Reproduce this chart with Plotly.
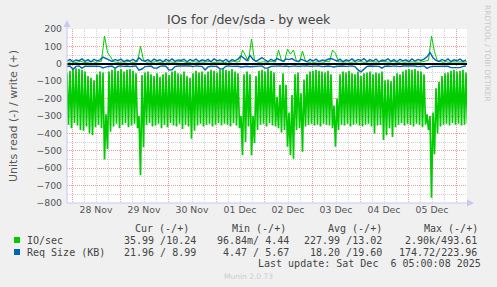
import plotly.graph_objects as go
from datetime import datetime, timedelta

# ---------------- data ----------------
sample_start = datetime(2025, 11, 27, 21, 30)   # first sample
sample_step = timedelta(minutes=90)             # one read cycle
half_step = timedelta(minutes=45)

# IO/sec read (drawn negative): cycle peaks (closest to 0) and troughs
read_peak = [-55, -40, -30, -25, -30, -35, -45, -70, -80, -95, -60, -45,
             -50, -290, -45,
             -35, -30, -40, -30, -45, -35, -30, -40, -55,
             -300, -65,
             -50, -45, -60, -70, -55, -75, -60, -50, -65, -45, -40, -55, -60, -45, -70, -80, -55, -40, -50, -45,
             -60, -45, -35, -40, -50, -35, -30, -35, -40, -30, -45, -55,
             -300, -60, -45, -60, -300,
             -70, -40, -35, -45, -30, -40, -50,
             -190, -120, -55, -120, -280, -180, -60, -50, -170, -90, -60,
             -45, -40, -35, -40, -45, -50, -40,
             -60, -240, -200, -60,
             -45, -50, -40, -55, -60, -45, -70, -55, -50, -45, -60, -50, -55, -45,
             -95, -90, -100, -70, -55, -60, -45, -35, -30, -35, -30, -40, -45, -60,
             -290, -300, -280, -140, -105,
             -70, -55, -50, -40, -35, -45, -40, -35, -50]
read_trough = [-350, -370, -340, -355, -380, -385, -360, -400, -410, -365, -350, -370,
               -550, -490, -390,
               -360, -345, -370, -350, -340, -365, -355, -345, -370,
               -640, -480,
               -350, -340, -360, -355, -345, -370, -350, -365, -340, -355, -360, -345, -375, -350, -360, -430, -385, -355, -345, -360,
               -350, -345, -360, -350, -340, -355, -345, -350, -360, -340, -355, -370,
               -525, -450, -360, -525, -455,
               -380, -350, -345, -360, -340, -355, -360,
               -370, -395, -380, -477, -525, -545, -380, -370, -506, -360, -350,
               -345, -355, -350, -360, -345, -350, -355,
               -370, -477, -380, -350,
               -355, -345, -360, -350, -345, -355, -360, -350, -345, -360, -400, -355, -350, -438,
               -410, -370, -420, -365, -350, -340, -355, -345, -350, -360, -345, -350, -365, -350,
               -380, -770, -520, -400, -360,
               -350, -345, -355, -340, -350, -345, -355, -350, -345]
# IO/sec write (positive)
write_io = [8, 12, 6, 10, 14, 9, 7, 11, 13, 8, 10, 15,
            160, 65, 40,
            12, 9, 7, 11, 10, 14, 8, 9, 13,
            100, 20,
            9, 11, 8, 12, 10, 7, 13, 9, 11, 8, 10, 12, 14, 9, 7, 10, 12, 8, 11, 9,
            10, 13, 8, 9, 12, 10, 7, 11, 9, 14, 10, 12,
            79, 45, 15, 142, 20,
            10, 8, 12, 9, 11, 13, 10,
            79, 18, 12, 84, 55, 79, 15, 10, 73, 14, 9,
            11, 8, 12, 10, 9, 13, 11,
            79, 60, 12, 9,
            10, 12, 8, 11, 9, 13, 10, 8, 12, 11, 9, 10, 14, 12,
            11, 9, 13, 10, 8, 12, 9, 11, 10, 13, 8, 9, 12, 14,
            20, 159, 69, 15, 10,
            9, 12, 8, 11, 10, 13, 9, 10, 12]
# Req Size (KB) read (drawn negative) and write
req_read = [-14, -13, -32, -15, -12, -25, -14, -13, -16, -12, -14, -15,
            -24, -18, -14,
            -13, -26, -14, -12, -15, -13, -16, -14, -12,
            -36, -30,
            -16, -14, -13, -25, -24, -15, -12, -14, -36, -34, -16, -13, -12, -15, -14, -13, -16, -12, -14, -15,
            -36, -18, -14, -13, -15, -30, -28, -14, -12, -15, -13, -14,
            -18, -16, -14, -17, -15,
            -13, -14, -12, -25, -24, -15, -13,
            -14, -12, -15, -13, -16, -14, -12, -15, -13, -14, -12,
            -15, -13, -14, -12, -16, -14, -13,
            -15, -18, -14, -12,
            -13, -15, -14, -12, -16, -35, -46, -30, -15, -13, -14, -12, -15, -25,
            -14, -13, -15, -12, -14, -16, -13, -12, -15, -14, -13, -16, -14, -12,
            -26, -18, -15, -14, -13,
            -12, -15, -14, -22, -21, -23, -22, -15, -13]
req_write = [15, 25, 12, 22, 18, 28, 14, 24, 11, 26, 17, 23,
             38, 30, 22,
             14, 25, 18, 27, 12, 22, 16, 26, 13,
             35, 20,
             15, 24, 12, 27, 18, 23, 11, 25, 16, 28, 14, 22, 19, 26, 12, 24, 17, 27, 13, 23,
             16, 25, 12, 28, 18, 22, 14, 26, 11, 24, 17, 27,
             45, 30, 18, 48, 25,
             14, 24, 36, 22, 12, 26, 17,
             30, 22, 15, 28, 24, 30, 18, 13, 26, 20, 12,
             25, 16, 27, 13, 22, 18, 26,
             30, 24, 15, 27,
             12, 23, 17, 28, 14, 25, 19, 30, 13, 24, 16, 27, 11, 22,
             18, 29, 14, 24, 12, 26, 17, 23, 13, 28, 15, 25, 19, 27,
             40, 65, 35, 20, 14,
             25, 16, 28, 12, 23, 18, 27, 14, 22]

x_tick_start = "2025-11-28"
y_title = "Units read (-) / write (+)"
title = "IOs for /dev/sda - by week"
legend_header = ["Cur (-/+)", "Min (-/+)", "Avg (-/+)", "Max (-/+)"]
io_values = ["35.99 /10.24", "96.84m/ 4.44", "227.99 /13.02", "2.90k/493.61"]
req_values = ["21.96 / 8.99", "4.47 / 5.67", "18.20 /19.60", "174.72/223.96"]
last_update = "Last update: Sat Dec\u00a0 6 05:00:08 2025"

GREEN = "#00CC00"
BLUE = "#0066B3"

n = len(read_peak)
t_peak = [sample_start + i * sample_step for i in range(n)]
t_trough = [t + half_step for t in t_peak]
read_x, read_y = [], []
for tp, tt, p, tr in zip(t_peak, t_trough, read_peak, read_trough):
    read_x += [tp, tt]
    read_y += [p, tr]

fig = go.Figure()
fig.add_trace(go.Scatter(x=t_trough, y=write_io, mode="lines",
                         line=dict(color=GREEN, width=1), hoverinfo="skip"))
fig.add_trace(go.Scatter(x=read_x, y=read_y, mode="lines",
                         line=dict(color=GREEN, width=1.7), hoverinfo="skip"))
fig.add_trace(go.Scatter(x=t_peak, y=req_read, mode="lines",
                         line=dict(color=BLUE, width=1.4), hoverinfo="skip"))
fig.add_trace(go.Scatter(x=t_peak, y=req_write, mode="lines",
                         line=dict(color=BLUE, width=1.4), hoverinfo="skip"))

# ---------------- layout ----------------
L, T, W, H = 67, 29, 400, 174


def px(x):
    return (x - L) / W


def py(y):
    return (T + H - y) / H


MAJOR = "rgb(240,150,150)"
MINOR = "#D4D4D4"
DASH = "1px,1px"
TICKFONT = dict(family="DejaVu Sans", size=9.3, color="#555555")

fig.update_layout(
    width=497, height=287,
    margin=dict(l=L, r=497 - L - W, t=T, b=287 - T - H, pad=0),
    paper_bgcolor="#F0F0F0", plot_bgcolor="#FFFFFF",
    showlegend=False,
    xaxis=dict(type="date",
               range=[sample_start, sample_start + timedelta(hours=200)],
               tick0=x_tick_start, dtick=86400000, tickformat="%d %b",
               ticklabelmode="period", ticks="", tickfont=TICKFONT,
               showgrid=True, gridcolor=MAJOR, griddash=DASH, gridwidth=1,
               minor=dict(tick0=x_tick_start, dtick=21600000, showgrid=True,
                          gridcolor=MINOR, griddash=DASH, gridwidth=1),
               zeroline=False, showline=False, fixedrange=True),
    yaxis=dict(range=[-800, 200], tick0=0, dtick=100, ticks="",
               tickfont=TICKFONT, ticklabelstandoff=4,
               showgrid=True, gridcolor=MAJOR, griddash=DASH, gridwidth=1,
               minor=dict(dtick=50, showgrid=True, gridcolor=MINOR,
                          griddash=DASH, gridwidth=1),
               zeroline=True, zerolinecolor="#000000", zerolinewidth=1.5,
               showline=False, fixedrange=True),
)

AX = "#C8C8F0"
shapes = [
    dict(type="line", xref="paper", yref="paper", x0=px(67), x1=px(67),
         y0=py(203), y1=py(23), line=dict(color=AX, width=1)),
    dict(type="line", xref="paper", yref="paper", x0=px(67), x1=px(469),
         y0=py(203), y1=py(203), line=dict(color=AX, width=1)),
    dict(type="path", xref="paper", yref="paper",
         path=f"M {px(63.5)} {py(27)} L {px(70.5)} {py(27)} L {px(67)} {py(20)} Z",
         fillcolor=AX, line=dict(color=AX, width=0)),
    dict(type="path", xref="paper", yref="paper",
         path=f"M {px(467)} {py(199.5)} L {px(467)} {py(206.5)} L {px(474)} {py(203)} Z",
         fillcolor=AX, line=dict(color=AX, width=0)),
    dict(type="rect", xref="paper", yref="paper", x0=px(14), x1=px(20),
         y0=py(243), y1=py(237), fillcolor=GREEN, line=dict(width=0)),
    dict(type="rect", xref="paper", yref="paper", x0=px(14), x1=px(20),
         y0=py(255), y1=py(249), fillcolor=BLUE, line=dict(width=0)),
]
fig.update_layout(shapes=shapes)

MONO = dict(family="DejaVu Sans Mono", size=10, color="#444444")
ann = []


def text(x, y, s, font, xanchor="left", angle=0):
    ann.append(dict(x=px(x), y=py(y), xref="paper", yref="paper", text=s,
                    showarrow=False, xanchor=xanchor, yanchor="middle",
                    textangle=angle, font=font, borderpad=0))


text(248.5, 19.5, title, dict(family="DejaVu Sans", size=12.5, color="#444444"), "center")
text(13, 116, y_title, dict(family="DejaVu Sans", size=11, color="#555555"), "center", -90)
text(488, 53, "RRDTOOL / TOBI OETIKER", dict(family="DejaVu Sans", size=7.5, color="#C8C8C8"), "center", 90)

for s, x in zip(legend_header, [134, 231, 327, 423]):
    text(x, 228, s, MONO)
text(26, 240, "IO/sec", MONO)
text(26, 252, "Req Size (KB)", MONO)
for s, xr in zip(io_values, [197, 290, 383, 478]):
    text(xr, 240, s, MONO, "right")
for s, xr in zip(req_values, [197, 290, 383, 478]):
    text(xr, 252, s, MONO, "right")
text(482, 263.5, last_update, MONO, "right")
text(248, 276, "Munin 2.0.73", dict(family="DejaVu Sans", size=7.5, color="#CCCCCC"), "center")

fig.update_layout(annotations=ann)
fig.write_html("out.html")
